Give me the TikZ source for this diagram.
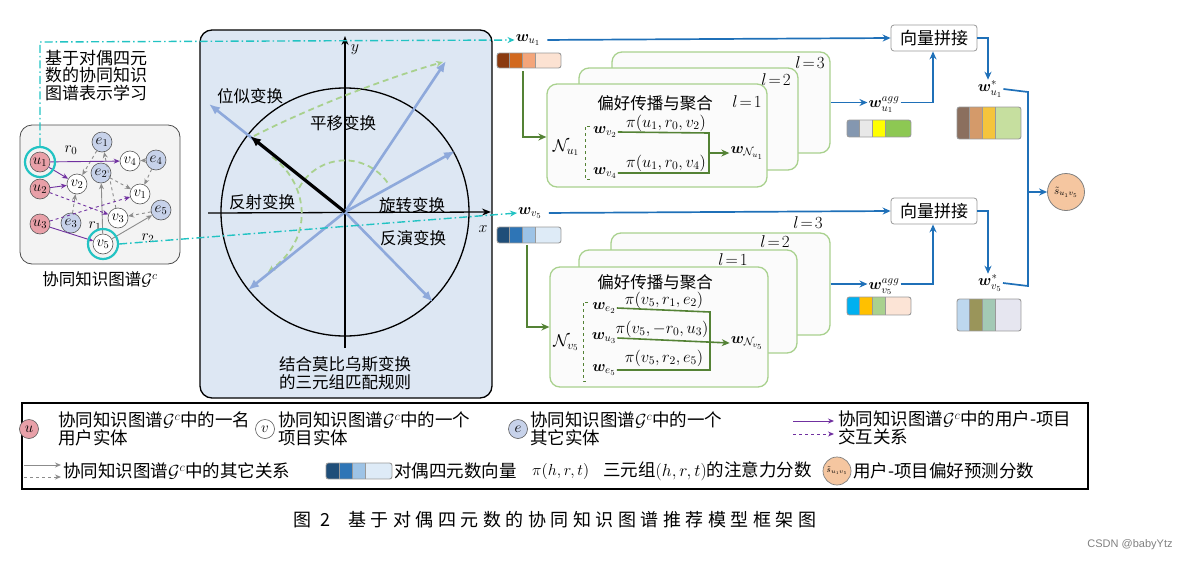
\RequirePackage{fix-cm}
\documentclass[tikz,border=0pt]{standalone}
\usepackage{amsmath,bm}
\usepackage{fontspec}
\newfontfamily\cjk{Noto Sans CJK SC}
\newfontfamily\cjkcap[LetterSpace=25]{Noto Sans CJK SC}
\newfontfamily\wmfont{Liberation Sans}
\usetikzlibrary{arrows.meta}
\definecolor{upink}{HTML}{E8A0A8}
\definecolor{eblue}{HTML}{C7D2EA}
\definecolor{purp}{HTML}{7030A0}
\definecolor{ringc}{HTML}{22C3C3}
\definecolor{boxblue}{HTML}{DDE7F3}
\definecolor{vecb}{HTML}{8EA9DB}
\definecolor{lgreen}{HTML}{A9D18E}
\definecolor{lblue}{HTML}{1F70B8}
\definecolor{cardg}{HTML}{A9D18E}
\definecolor{cardf}{HTML}{FBFBFB}
\definecolor{dgreen}{HTML}{548235}
\definecolor{scorec}{HTML}{F5C6A0}
\definecolor{graybox}{HTML}{F3F3F3}
\definecolor{ua}{HTML}{8B3A0F}\definecolor{ub}{HTML}{D2691E}\definecolor{uc}{HTML}{F4A57A}\definecolor{ud}{HTML}{FCE2D2}
\definecolor{va}{HTML}{1F4E79}\definecolor{vb}{HTML}{2E75B6}\definecolor{vc}{HTML}{9DC3E6}\definecolor{vd}{HTML}{DEEBF7}
\definecolor{aa}{HTML}{8497B0}\definecolor{ab}{HTML}{E8E8E8}\definecolor{ac}{HTML}{FFFF00}\definecolor{ad}{HTML}{8DC853}
\definecolor{ba}{HTML}{00B0F0}\definecolor{bb}{HTML}{FFC000}\definecolor{bc}{HTML}{A9D18E}\definecolor{bd}{HTML}{FCE4D6}
\definecolor{sa}{HTML}{8B6F5E}\definecolor{sb}{HTML}{D49A6A}\definecolor{sc}{HTML}{F5C43C}\definecolor{sd}{HTML}{C6DF9F}
\definecolor{ta}{HTML}{BDD7EE}\definecolor{tb}{HTML}{9A955A}\definecolor{tc}{HTML}{A3C9B5}\definecolor{td}{HTML}{E6E6F0}
% quaternion vector bar: x, y, cell width, height, 4 colours
\newcommand{\qvbar}[8]{%
  \begin{scope}
    \clip[rounded corners=2.5pt] (#1,#2) rectangle ++({5*#3},#4);
    \fill[#5] (#1,#2) rectangle ++(#3,#4);
    \fill[#6] ({#1+#3},#2) rectangle ++(#3,#4);
    \fill[#7] ({#1+2*#3},#2) rectangle ++(#3,#4);
    \fill[#8] ({#1+3*#3},#2) rectangle ++({2*#3},#4);
  \end{scope}
  \draw[gray!80, line width=0.7pt] ({#1+#3},#2) -- ++(0,#4) ({#1+2*#3},#2) -- ++(0,#4) ({#1+3*#3},#2) -- ++(0,#4);
  \draw[gray!80, line width=0.9pt, rounded corners=2.5pt] (#1,#2) rectangle ++({5*#3},#4);
}
\begin{document}
\begin{tikzpicture}[x=1pt,y=-1pt,
  cjkt/.style={font=\cjk\fontsize{16.5}{18}\selectfont, inner sep=1pt},
  legt/.style={font=\cjk\fontsize{17.5}{18}\selectfont, anchor=west, align=left, inner sep=0pt},
  gn/.style={circle, draw=black!65, line width=0.6pt, inner sep=0pt, minimum size=20pt, font=\fontsize{15}{15}\selectfont},
  un/.style={gn, fill=upink},
  vn/.style={gn, fill=white},
  en/.style={gn, fill=eblue},
  arrtip/.style={-{Stealth[length=6pt,width=5pt]}},
  pe/.style={draw=purp, line width=0.9pt, arrtip},
  pde/.style={pe, dashed},
  ge/.style={draw=gray!90, line width=0.9pt, arrtip},
  gde/.style={ge, dashed},
  ringnode/.style={circle, draw=ringc, line width=2.2pt, minimum size=30pt, inner sep=0pt},
  dd/.style={draw=ringc, line width=1.4pt, dash pattern=on 8pt off 3pt on 1.5pt off 3pt},
  vecarr/.style={draw=vecb, line width=2.6pt, -{Latex[length=11pt,width=9pt]}},
  gdash/.style={draw=lgreen, line width=1.8pt, dash pattern=on 6pt off 4pt},
  bl/.style={draw=lblue, line width=1.7pt},
  blarr/.style={bl, -{Stealth[length=8pt,width=7pt]}},
  card/.style={draw=cardg, line width=1.3pt, fill=cardf, rounded corners=10pt, inner sep=0pt},
  dg/.style={draw=dgreen, line width=1.6pt},
  dgarr/.style={dg, -{Stealth[length=8pt,width=7pt]}},
  catbox/.style={draw=gray!80, line width=0.8pt, fill=white, rounded corners=3pt, minimum width=86pt, minimum height=26pt, inner sep=0pt, font=\cjk\fontsize{17}{18}\selectfont},
  wl/.style={font=\fontsize{15.5}{15.5}\selectfont, inner sep=1pt},
  pit/.style={font=\fontsize{16.5}{16.5}\selectfont, inner sep=0pt},
  lvl/.style={font=\fontsize{17}{17}\selectfont, inner sep=0pt},
]
\useasboundingbox (0,0) rectangle (1194,560);

% ---------------- left: collaborative KG ----------------
\node[anchor=north west, align=left, font=\cjk\fontsize{17}{17.5}\selectfont, inner sep=0pt] (title) at (45,50) {基于对偶四元\\数的协同知识\\图谱表示学习};
\node[draw=black!70, line width=0.8pt, fill=graybox, rounded corners=12pt, minimum width=160pt, minimum height=139pt, inner sep=0pt] (gbox) at (100,194.5) {};
\node[font=\cjk\fontsize{16.5}{18}\selectfont] (gcap) at (100,279) {协同知识图谱$\mathcal{G}^c$};

\node[un] (u1) at (40,162) {$u_1$};
\node[un] (u2) at (40,189) {$u_2$};
\node[un] (u3) at (40,224) {$u_3$};
\node[en] (e1) at (102,142) {$e_1$};
\node[vn] (v4) at (130,161) {$v_4$};
\node[en] (e4) at (156,160) {$e_4$};
\node[vn] (v2) at (77,184) {$v_2$};
\node[en] (e2) at (101,173) {$e_2$};
\node[vn] (v1) at (140,194) {$v_1$};
\node[en] (e3) at (71,223) {$e_3$};
\node[vn] (v3) at (118,218) {$v_3$};
\node[en] (e5) at (161,210) {$e_5$};
\node[vn] (v5) at (103,244) {$v_5$};

\draw[gde] (e1) -- (v2);
\draw[gde] (v3) -- (e1);
\draw[gde] (e4) -- (v1);
\draw[gde] (e2) -- (v1);
\draw[gde] (e5) -- (v3);
\draw[gde] (e3) -- (v2);
\draw[ge] (v5) -- (e2);
\draw[ge] (v5) -- (e5);
\draw[ge] (e4) -- (v4);
\draw[pe] (u1) -- (v4);
\draw[pe] (u1) -- (v2);
\draw[pe] (u2) -- (v2);
\draw[pde] (u2) -- (v3);
\draw[pde] (u3) -- (v1);
\draw[pe] (u3) -- (v5);
\node[font=\fontsize{15.5}{15.5}\selectfont] (r0) at (71,150) {$r_0$};
\node[font=\fontsize{15.5}{15.5}\selectfont] (r1) at (95,226) {$r_1$};
\node[font=\fontsize{15.5}{15.5}\selectfont] (r2) at (148,238) {$r_2$};
\node[ringnode] (u1ring) at (u1) {};
\node[ringnode] (v5ring) at (v5) {};

% ---------------- middle: Moebius box ----------------
\node[draw, line width=1.3pt, fill=boxblue, rounded corners=12pt, minimum width=292pt, minimum height=368pt, inner sep=0pt] (mbox) at (346,214) {};
\coordinate (O) at (345,212);
\draw[line width=1.3pt] (O) circle (124pt);
\draw[line width=1.3pt, -{Stealth[length=9pt,width=7pt]}] (208,213) -- (491,212);
\draw[line width=1.3pt, -{Stealth[length=9pt,width=7pt]}] (345,348) -- (345,36);
\node[font=\fontsize{16}{16}\selectfont] (ylab) at (355,50) {$y$};
\node[font=\fontsize{16}{16}\selectfont] (xlab) at (483,229) {$x$};

\draw[gdash, -{Stealth[length=7pt,width=6pt]}] (254,136) .. controls (305,110) and (380,80) .. (443,62);
\draw[gdash] (299,188) arc[start angle=152, end angle=30, radius=52pt];
\draw[gdash, -{Stealth[length=7pt,width=6pt]}] (272,157) .. controls (305,180) and (318,235) .. (268,272);

\draw[vecarr] (O) -- (446,61);
\draw[vecarr] (O) -- (455,151);
\draw[vecarr] (O) -- (248,290);
\draw[vecarr] (O) -- (433,302);
\draw[vecarr] (O) -- (209,104);
\draw[line width=3.2pt, -{Latex[length=11pt,width=9pt]}] (O) -- (250,136);

\node[cjkt] (t1) at (250,96) {位似变换};
\node[cjkt] (t2) at (343,123) {平移变换};
\node[cjkt] (t3) at (262,202) {反射变换};
\node[cjkt] (t4) at (412,205) {旋转变换};
\node[cjkt] (t5) at (413,238) {反演变换};
\node[align=center, font=\cjk\fontsize{16.5}{17.5}\selectfont] (t6) at (345,373) {结合莫比乌斯变换\\的三元组匹配规则};

% ---------------- dash-dot links ----------------
\node[wl] (wu1) at (528,40) {$\bm{w}_{u_1}$};
\node[wl] (wv5) at (530,213) {$\bm{w}_{v_5}$};
\coordinate (cornerA) at (40,42);
\draw[dd, -{Stealth[length=7pt,width=6pt]}] (u1ring.north) -- (cornerA) -- (wu1.west);
\draw[dd, -{Stealth[length=7pt,width=6pt]}] (v5ring.east) -- (wv5.west);

% ---------------- upper propagation ----------------
\qvbar{497}{53}{12.8}{15}{ua}{ub}{uc}{ud}
\coordinate (vu1) at (523,71);
\node[card, minimum width=218pt, minimum height=101pt] (u3c) at (721,102.5) {};
\node[card, minimum width=219pt, minimum height=102pt] (u2c) at (688.5,119) {};
\node[card, minimum width=220pt, minimum height=103pt] (u1c) at (657,135.5) {};
\node[lvl] (ul3) at (810,63) {$l\!=\!3$};
\node[lvl] (ul2) at (776,80) {$l\!=\!2$};
\node[lvl] (ul1) at (747,102) {$l\!=\!1$};
\node[cjkt] (uh) at (655,103) {偏好传播与聚合};
\node[font=\fontsize{17}{17}\selectfont, inner sep=0pt] (Nu1) at (566,148) {$\mathcal{N}_{u_1}$};
\draw[dgreen, line width=1pt, dashed] (590,126) -- (585,126) -- (585,179) -- (590,179);
\node[wl] (wv2) at (605,132) {$\bm{w}_{v_2}$};
\node[wl] (wv4) at (605,173) {$\bm{w}_{v_4}$};
\node[pit] (p1) at (666,123) {$\pi(u_1,r_0,v_2)$};
\node[pit] (p2) at (666,163) {$\pi(u_1,r_0,v_4)$};
\node[wl] (wNu1) at (747,153) {$\bm{w}_{\mathcal{N}_{u_1}}$};
\draw[dg] (wv2.east) -- (709,133) -- (709,173) -- (wv4.east);
\draw[dgarr] (709,153) -- (wNu1.west);
\draw[dgarr] (vu1) -- (523,137) -- (u1c.west |- 0,137);

% ---------------- lower propagation ----------------
\qvbar{497}{227}{12.8}{16}{va}{vb}{vc}{vd}
\coordinate (vv5) at (527,245);
\node[card, minimum width=219pt, minimum height=102pt] (l3c) at (720.5,284) {};
\node[card, minimum width=218pt, minimum height=103pt] (l2c) at (688,301.5) {};
\node[card, minimum width=218pt, minimum height=120pt] (l1c) at (659,327) {};
\node[lvl] (ll3) at (808,223) {$l\!=\!3$};
\node[lvl] (ll2) at (775,242) {$l\!=\!2$};
\node[lvl] (ll1) at (733,260) {$l\!=\!1$};
\node[cjkt] (lh) at (655,282) {偏好传播与聚合};
\node[font=\fontsize{17}{17}\selectfont, inner sep=0pt] (Nv5) at (566,343) {$\mathcal{N}_{v_5}$};
\draw[dgreen, line width=1pt, dashed] (588,302) -- (583,302) -- (583,381) -- (588,381);
\node[wl] (we2) at (604,308) {$\bm{w}_{e_2}$};
\node[wl] (wu3) at (604,338) {$\bm{w}_{u_3}$};
\node[wl] (we5) at (604,370) {$\bm{w}_{e_5}$};
\node[pit] (q1) at (664,300) {$\pi(v_5,r_1,e_2)$};
\node[pit] (q2) at (662,329) {$\pi(v_5,{-r_0},u_3)$};
\node[pit] (q3) at (664,358) {$\pi(v_5,r_2,e_5)$};
\node[wl] (wNv5) at (747,343) {$\bm{w}_{\mathcal{N}_{v_5}}$};
\draw[dg] (we2.east) -- (710,312) -- (710,370) -- (we5.east);
\draw[dgarr] (wu3.east) -- (wNv5.west);
\draw[dgarr] (vv5) -- (527,327) -- (l1c.west |- 0,327);

% ---------------- right: concatenation ----------------
\node[catbox] (cat1) at (934,38) {向量拼接};
\node[catbox] (cat2) at (934,211) {向量拼接};
\draw[blarr, shorten <=6pt] (wu1.east) -- (cat1.west);
\draw[blarr, shorten <=6pt] (wv5.east) -- (cat2.west);

\node[wl] (wa1) at (884,105) {$\bm{w}^{agg}_{u_1}$};
\node[wl] (wa2) at (884,287) {$\bm{w}^{agg}_{v_5}$};
\draw[blarr] (u3c.east) -- (wa1.west |- 0,102.5);
\draw[blarr] (wa1.east |- 0,102.5) -- (933,102.5) -- (cat1.south -| 933,0);
\draw[blarr] (l3c.east) -- (wa2.west |- 0,284);
\draw[blarr] (wa2.east |- 0,284) -- (933,284) -- (cat2.south -| 933,0);
\qvbar{847}{120}{12.8}{17}{aa}{ab}{ac}{ad}
\qvbar{847}{297}{12.8}{18}{ba}{bb}{bc}{bd}

\node[wl] (ws1) at (990,89) {$\bm{w}^{*}_{u_1}$};
\node[wl] (ws2) at (990,283) {$\bm{w}^{*}_{v_5}$};
\draw[blarr] (cat1.east) -- (988,38) -- (ws1.north -| 988,0);
\draw[blarr] (cat2.east) -- (988,211) -- (ws2.north -| 988,0);
\qvbar{957}{107}{12.8}{32}{sa}{sb}{sc}{sd}
\qvbar{957}{299}{12.8}{32}{ta}{tb}{tc}{td}

\node[circle, draw=gray, line width=0.8pt, fill=scorec, minimum size=37pt, inner sep=0pt, font=\fontsize{11}{11}\selectfont] (score) at (1066,192) {$\tilde{s}_{u_1v_5}$};
\coordinate (jn) at (1028,192);
\draw[bl] (ws1.east) -- (1028,92) -- (1028,286) -- (ws2.east);
\draw[blarr] (jn) -- (score.west);

% ---------------- legend ----------------
\node[draw, line width=1.3pt, minimum width=1066pt, minimum height=86pt, inner sep=0pt] (legend) at (555,446) {};
\node[un, minimum size=19pt] (lu) at (29,429) {$u$};
\node[legt] (lut) at (58,429) {协同知识图谱$\mathcal{G}^c$中的一名\\用户实体};
\node[vn, minimum size=19pt] (lv) at (265,429) {$v$};
\node[legt] (lvt) at (278,429) {协同知识图谱$\mathcal{G}^c$中的一个\\项目实体};
\node[en, minimum size=19pt] (le) at (518,429) {$e$};
\node[legt] (let) at (530,429) {协同知识图谱$\mathcal{G}^c$中的一个\\其它实体};
\coordinate (pa1) at (793,421);
\coordinate (pa2) at (834,421);
\coordinate (pb1) at (793,434);
\coordinate (pb2) at (834,434);
\draw[pe] (pa1) -- (pa2);
\draw[pde] (pb1) -- (pb2);
\node[legt] (lpt) at (838,428) {协同知识图谱$\mathcal{G}^c$中的用户-项目\\交互关系};

\coordinate (ga1) at (24,465);
\coordinate (ga2) at (61,465);
\coordinate (gb1) at (24,477);
\coordinate (gb2) at (61,477);
\draw[ge] (ga1) -- (ga2);
\draw[gde] (gb1) -- (gb2);
\node[legt] (lgt) at (63,471) {协同知识图谱$\mathcal{G}^c$中的其它关系};
\qvbar{326}{463}{13.2}{16}{va}{vb}{vc}{vd}
\node[legt] (lqt) at (394,471) {对偶四元数向量};
\node[legt, font=\fontsize{16}{16}\selectfont] (lpi) at (532,471) {$\pi(h,r,t)$};
\node[legt] (lpit) at (603,471) {三元组$(h,r,t)$的注意力分数};
\node[circle, draw=gray, line width=0.7pt, fill=scorec, minimum size=28pt, inner sep=0pt, font=\fontsize{8.5}{8.5}\selectfont] (ls) at (837,471) {$\tilde{s}_{u_1v_5}$};
\node[legt] (lst) at (853,471) {用户-项目偏好预测分数};

% ---------------- caption ----------------
\node[font=\cjkcap\fontsize{18}{19}\selectfont] (cap) at (555,520) {图 2\quad 基于对偶四元数的协同知识图谱推荐模型框架图};
\node[font=\wmfont\fontsize{11}{12}\selectfont, text=gray] (wm) at (1130,545) {CSDN @babyYtz};
\end{tikzpicture}
\end{document}
